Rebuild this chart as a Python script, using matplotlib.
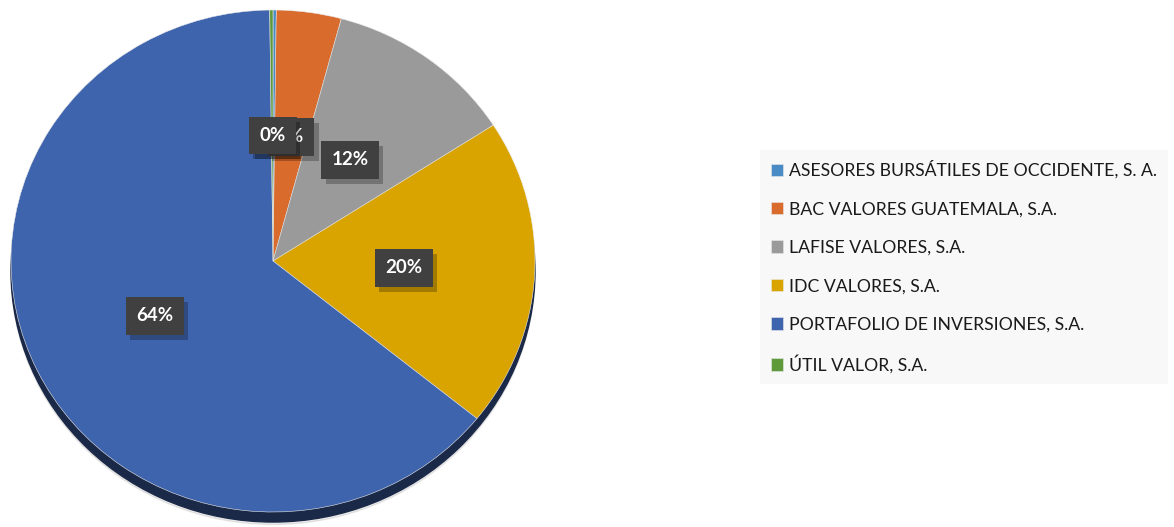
import numpy as np
import matplotlib
matplotlib.use("Agg")
import matplotlib.pyplot as plt
from matplotlib.patches import Ellipse

# data (percent of total)
labels = ["ASESORES BURSÁTILES DE OCCIDENTE, S. A.",
          "BAC VALORES GUATEMALA, S.A.",
          "LAFISE VALORES, S.A.",
          "IDC VALORES, S.A.",
          "PORTAFOLIO DE INVERSIONES, S.A.",
          "ÚTIL VALOR, S.A."]
values = [0.2, 4.0, 11.7, 19.9, 64.0, 0.2]
colors = ["#4A8BC6", "#D96B2C", "#9A9A9A", "#D9A400", "#3E64AD", "#5E9A3A"]

plt.rcParams['font.family'] = ['Lato', 'DejaVu Sans']

W, H = 1174, 527
fig = plt.figure(figsize=(W / 100, H / 100), dpi=100)
fig.patch.set_facecolor("white")

# pie axes: centre (273, 261) px, slightly flattened (3D-ish look)
cx, cy, rx, ry = 273, 261, 262, 251
ax = fig.add_axes([(cx - rx) / W, (H - cy - ry) / H, 2 * rx / W, 2 * ry / H])
ax.axis("off")

# depth shadow under the pie
ax.add_patch(Ellipse((0.0, -0.04), 2.0, 2.0, color="#1E2D4F", zorder=0, clip_on=False))
ax.add_patch(Ellipse((0.0, -0.05), 2.0, 2.0, color="#000000", alpha=0.08, zorder=0,
                     clip_on=False))

wedges, texts, autotexts = ax.pie(values, colors=colors, startangle=90, counterclock=False,
                                  radius=1.0, autopct='%1.0f%%', pctdistance=0.5,
                                  wedgeprops=dict(linewidth=0.4, edgecolor="#e8e8e8"),
                                  textprops=dict(color="white", fontsize=13.5, fontweight="bold"))
ax.set_aspect("auto")
ax.set_xlim(-1, 1)
ax.set_ylim(-1, 1)
for w in wedges:
    w.set_zorder(1)
    w.set_clip_on(False)

for i, t in enumerate(autotexts):
    x, y = t.get_position()
    # box shadow
    ax.text(x + 0.016, y - 0.02, t.get_text(), fontsize=13.5, fontweight="bold",
            color=(0, 0, 0, 0), ha="center", va="center", zorder=3 + 2 * i,
            bbox=dict(boxstyle="square,pad=0.55", facecolor="#000000", alpha=0.25,
                      edgecolor="none"))
    t.set_zorder(4 + 2 * i)
    t.set_bbox(dict(boxstyle="square,pad=0.55", facecolor="#404040", edgecolor="none"))

# legend
leg = fig.legend(wedges, labels, loc="upper left",
                 bbox_to_anchor=(760 / W, 1 - 150 / H), frameon=True,
                 fontsize=12.7, handlelength=0.7, handleheight=0.7,
                 handletextpad=0.35, labelspacing=1.27, borderpad=0.6,
                 borderaxespad=0)
leg.get_frame().set_facecolor("#F7F7F7")
leg.get_frame().set_edgecolor("none")
leg.get_frame().set_boxstyle("square", pad=0)
for t in leg.get_texts():
    t.set_color("#1a1a1a")

fig.savefig("out.png", dpi=100, facecolor="white")
